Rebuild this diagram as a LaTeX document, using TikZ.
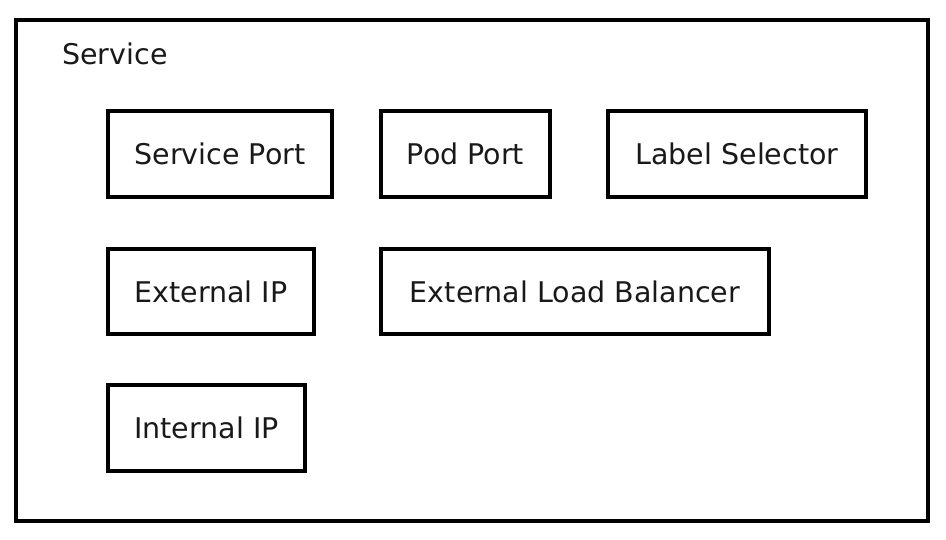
\documentclass[tikz,border=0pt]{standalone}
\usepackage{fontspec}
\setmainfont{DejaVu Sans}
\begin{document}
\begin{tikzpicture}[x=1pt,y=-1pt,
  boxstyle/.style={draw=black, line width=4pt, inner sep=0pt, font=\fontsize{28.5}{34}\selectfont, text=black!90},
  lbl/.style={inner sep=0pt, font=\fontsize{28.5}{34}\selectfont, text=black!90}]
\useasboundingbox (0,0) rectangle (946,540);
\fill[white] (0,0) rectangle (946,540);
\node[draw=black, line width=4pt, minimum width=911.5pt, minimum height=500.5pt, inner sep=0pt] (svc) at (471.75,270.75) {};
\node[lbl, anchor=base west] (svclbl) at (62,65) {Service};
\node[boxstyle, minimum width=224pt, minimum height=86pt] (sport) at (220,154) {Service Port};
\node[boxstyle, minimum width=169pt, minimum height=86pt] (pport) at (465.5,154) {Pod Port};
\node[boxstyle, minimum width=258pt, minimum height=86pt] (lsel) at (737,154) {Label Selector};
\node[boxstyle, minimum width=206pt, minimum height=85pt] (extip) at (211,291.5) {External IP};
\node[boxstyle, minimum width=388pt, minimum height=85pt] (elb) at (575,291.5) {External Load Balancer};
\node[boxstyle, minimum width=197pt, minimum height=86pt] (intip) at (206.5,428) {Internal IP};
\end{tikzpicture}
\end{document}
